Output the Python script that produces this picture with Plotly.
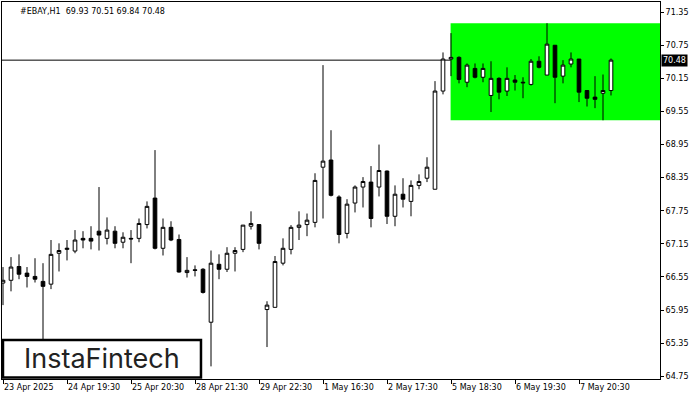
import plotly.graph_objects as go

symbol_title = "#EBAY,H1\u00a0\u00a069.93 70.51 69.84 70.48"

opens = [66.44, 66.49, 66.74, 66.62, 66.56, 66.47, 66.42, 66.98, 67.05, 67.02,
         67.25, 67.25, 67.38, 67.25, 67.38, 67.18, 67.25, 67.25, 67.50, 67.98,
         67.07, 67.45, 67.23, 66.63, 66.68, 66.69, 65.73, 66.78, 66.69, 66.98,
         67.05, 67.47, 67.50, 65.96, 66.00, 66.80, 67.05, 67.45, 67.50, 67.54,
         68.54, 68.67, 68.00, 67.34, 67.89, 68.18, 68.27, 68.18, 68.47, 67.65,
         68.05, 67.92, 68.21, 68.34, 68.14, 69.92, 70.50, 70.53, 70.08, 70.33,
         70.17, 69.84, 70.15, 69.92, 70.12, 70.08, 70.04, 70.46, 70.21, 70.75,
         70.19, 70.41, 70.50, 69.93, 69.81, 69.88, 69.93]
highs = [66.73, 66.91, 66.96, 66.73, 66.89, 66.80, 67.22, 67.16, 67.22, 67.40,
         67.38, 67.47, 68.18, 67.63, 67.47, 67.36, 67.40, 67.61, 67.92, 68.85,
         67.61, 67.56, 67.32, 66.91, 66.76, 66.71, 67.03, 66.96, 67.09, 67.09,
         67.49, 67.74, 67.50, 66.11, 66.93, 67.25, 67.49, 67.74, 67.70, 68.43,
         70.39, 69.21, 68.03, 67.96, 68.21, 68.36, 68.56, 68.95, 68.48, 68.21,
         68.34, 68.30, 68.41, 68.72, 70.10, 70.62, 70.97, 70.55, 70.42, 70.42,
         70.42, 70.46, 70.17, 70.35, 70.21, 70.17, 70.50, 70.55, 71.15, 70.75,
         70.48, 70.62, 70.50, 69.93, 70.19, 70.22, 70.51]
lows = [66.04, 66.29, 66.51, 66.36, 66.45, 65.40, 66.33, 66.65, 66.85, 66.98,
        67.07, 67.05, 67.03, 67.14, 67.07, 67.07, 66.80, 67.18, 67.43, 67.05,
        66.94, 67.20, 66.63, 66.54, 66.56, 66.25, 64.93, 66.51, 66.64, 66.65,
        67.00, 67.41, 67.05, 65.28, 66.00, 66.76, 66.96, 67.22, 67.29, 67.45,
        67.61, 68.01, 67.16, 67.25, 67.72, 67.81, 67.45, 68.01, 67.51, 67.47,
        67.81, 67.65, 68.14, 68.27, 68.14, 69.86, 70.19, 70.06, 69.99, 70.15,
        70.08, 69.54, 69.77, 69.83, 69.93, 69.79, 70.02, 70.33, 70.21, 69.70,
        70.06, 70.35, 69.72, 69.64, 69.61, 69.39, 69.84]
closes = [66.49, 66.73, 66.60, 66.56, 66.51, 66.38, 66.96, 67.03, 67.07, 67.22,
          67.22, 67.20, 67.31, 67.40, 67.16, 67.27, 67.24, 67.52, 67.83, 67.07,
          67.45, 67.22, 66.64, 66.67, 66.67, 66.27, 66.80, 66.69, 66.98, 67.03,
          67.49, 67.52, 67.16, 66.04, 66.83, 67.07, 67.45, 67.49, 67.58, 68.30,
          68.65, 68.03, 67.32, 67.87, 68.18, 68.28, 67.61, 68.48, 67.65, 68.05,
          67.96, 68.21, 68.28, 68.54, 69.92, 70.50, 70.53, 70.13, 70.39, 70.17,
          70.33, 70.15, 69.90, 70.15, 70.08, 70.07, 70.46, 70.35, 70.77, 70.17,
          70.39, 70.50, 69.90, 69.79, 69.77, 69.93, 70.48]

tick_positions = [0, 8, 16, 24, 32, 40, 48, 56, 64, 72]
tick_labels = ["23 Apr 2025", "24 Apr 19:30", "25 Apr 20:30", "28 Apr 21:30",
               "29 Apr 22:30", "1 May 16:30", "2 May 17:30", "5 May 18:30",
               "6 May 19:30", "7 May 20:30"]
price_ticks = [64.75, 65.35, 65.95, 66.55, 67.15, 67.75, 68.35, 68.95,
               69.55, 70.15, 70.75, 71.35]
pattern_start = 56
logo_text = "InstaFintech"

x = list(range(len(opens)))
X_RANGE = [-0.125, 82.125]
Y_RANGE = [64.701, 71.534]
FONT = "DejaVu Sans"

fig = go.Figure()
fig.add_trace(go.Candlestick(
    x=x, open=opens, high=highs, low=lows, close=closes,
    increasing=dict(line=dict(color="black", width=1), fillcolor="white"),
    decreasing=dict(line=dict(color="black", width=1), fillcolor="black"),
    whiskerwidth=0, hoverinfo="skip", showlegend=False,
))

# green rectangle pattern
fig.add_shape(type="rect", xref="x", yref="y",
              x0=pattern_start - 0.05, x1=X_RANGE[1],
              y0=min(lows[pattern_start:]), y1=max(highs[pattern_start:]),
              fillcolor="#00FF00", line=dict(width=0), layer="below")
# last price line
fig.add_shape(type="line", xref="paper", yref="y", x0=0, x1=1,
              y0=closes[-1], y1=closes[-1],
              line=dict(color="black", width=1), layer="below")
# logo box
fig.add_shape(type="rect", xref="paper", yref="paper",
              x0=0.0015, x1=0.3024, y0=0.004, y1=0.1034,
              fillcolor="white", line=dict(color="black", width=2.5), layer="above")

fig.add_annotation(xref="paper", yref="paper", x=0.1525, y=0.054,
                   text=logo_text, showarrow=False,
                   font=dict(family="Inter", size=27, color="#222222", weight=400),
                   xanchor="center", yanchor="middle")
fig.add_annotation(xref="paper", yref="paper", x=0.0243, y=0.976,
                   text=symbol_title, showarrow=False,
                   font=dict(family=FONT, size=8, color="black"),
                   xanchor="left", yanchor="middle")
fig.add_annotation(xref="paper", yref="y", x=1, y=closes[-1],
                   text=f"{closes[-1]:.2f}", showarrow=False, xshift=1,
                   font=dict(family=FONT, size=8, color="white"),
                   bgcolor="black", borderpad=1,
                   xanchor="left", yanchor="middle")

fig.update_layout(
    width=700, height=400,
    margin=dict(l=2, r=40, t=2, b=21),
    paper_bgcolor="white", plot_bgcolor="white",
    boxgap=0.35,
    xaxis=dict(range=X_RANGE, rangeslider=dict(visible=False),
               tickvals=tick_positions, ticktext=tick_labels,
               ticks="outside", ticklen=4, tickcolor="black",
               ticklabelposition="outside right",
               showline=True, linecolor="black", linewidth=1, mirror=True,
               showgrid=False, zeroline=False,
               tickfont=dict(family=FONT, size=8, color="black")),
    yaxis=dict(range=Y_RANGE, side="right",
               tickvals=price_ticks, ticktext=[f"{p:.2f}" for p in price_ticks],
               ticks="outside", ticklen=3, tickcolor="black",
               showline=True, linecolor="black", linewidth=1, mirror=True,
               showgrid=False, zeroline=False,
               tickfont=dict(family=FONT, size=8, color="black")),
    hovermode=False,
)

fig.write_html("out.html", config={"displayModeBar": False},
               post_script="document.body.style.margin='0';document.body.style.overflow='hidden';")
